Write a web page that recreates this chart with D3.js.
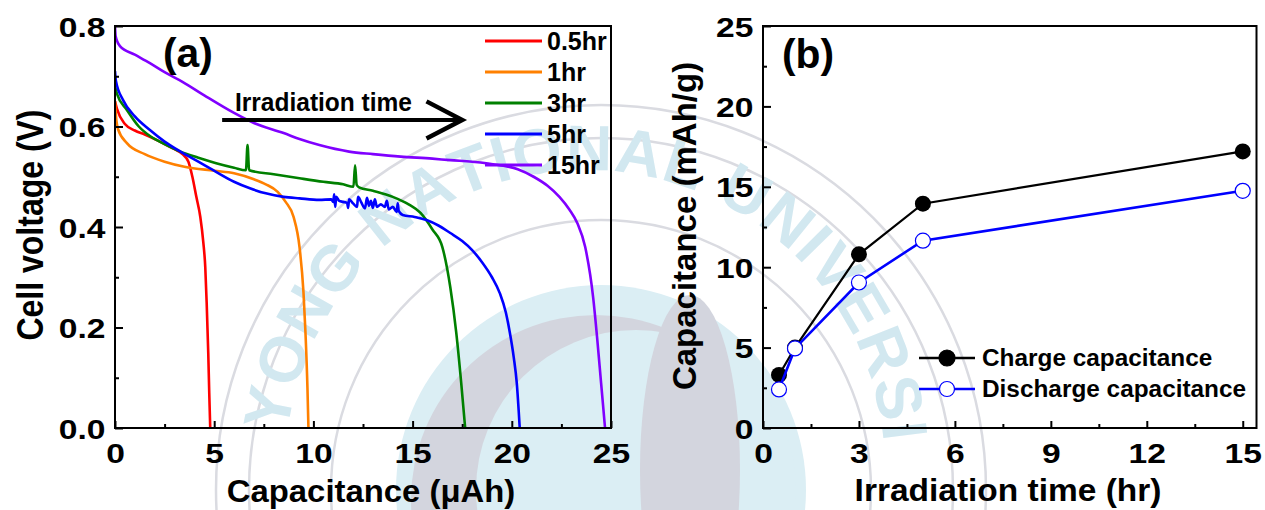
<!DOCTYPE html>
<html lang="en">
  <head>
    <meta charset="UTF-8" />
    <title>discharge curves</title>
    <style>
      body { margin: 0; background: #fff; }
      text { font-family: 'Liberation Sans', Arial, sans-serif; font-weight: bold; }
    </style>
  </head>
  <body>
    <svg id="chart" width="1265" height="510"></svg>
    <script src="https://cdn.jsdelivr.net/npm/d3@7"></script>
    <script>
      // (a) cell voltage vs capacitance, one array per irradiation time: [µAh, V]
      var curve05 = [[0,0.65],[0.1,0.635],[0.5,0.605],[1,0.592],[1.5,0.584],[2,0.575],[2.5,0.565],[3,0.555],[3.4,0.545],
        [3.7,0.53],[3.9,0.5],[4.1,0.46],[4.3,0.42],[4.45,0.37],[4.55,0.32],[4.62,0.25],[4.7,0.15],[4.75,0.07],[4.8,0]];
      var curve1 = [[0,0.65],[0.05,0.62],[0.15,0.595],[0.6,0.567],[1.5,0.545],[2.5,0.53],[3.5,0.52],[5,0.512],[6,0.507],
        [7,0.495],[7.6,0.485],[8.2,0.47],[8.6,0.45],[9,0.42],[9.3,0.36],[9.5,0.27],[9.6,0.19],[9.7,0.08],[9.75,0]];
      var curve3 = [[0,0.68],[0.1,0.665],[0.6,0.633],[1.2,0.6],[1.8,0.58],[2.5,0.565],[3.3,0.55],[4.2,0.538],[5.1,0.527],
        [6,0.518],[6.6,0.513],[6.68,0.563],[6.76,0.513],[8,0.505],[9.3,0.497],[10.5,0.49],[11.5,0.485],[12.02,0.48],
        [12.1,0.523],[12.18,0.484],[12.3,0.479],[13,0.472],[14,0.46],[14.8,0.445],[15.4,0.428],[16,0.395],[16.5,0.36],
        [16.9,0.28],[17.2,0.19],[17.45,0.09],[17.65,0]];
      var curve5 = [[0,0.71],[0.05,0.69],[0.4,0.653],[1,0.62],[1.76,0.593],[2.5,0.57],[3.3,0.55],[4.2,0.53],[4.95,0.513],
        [6,0.49],[6.8,0.477],[7.6,0.467],[8.5,0.46],[9.3,0.457],[10.3,0.454],[10.9,0.455],[11,0.45],[11.05,0.465],
        [11.1,0.44],[11.15,0.46],[11.3,0.452],[11.5,0.45],[11.7,0.448],[11.75,0.438],[11.8,0.455],[12,0.447],[12.2,0.44],
        [12.25,0.46],[12.4,0.45],[12.6,0.437],[12.7,0.458],[12.8,0.442],[12.9,0.452],[13,0.438],[13.1,0.455],[13.2,0.44],
        [13.4,0.445],[13.6,0.44],[13.7,0.452],[13.8,0.435],[14,0.44],[14.2,0.43],[14.25,0.447],[14.3,0.432],[14.5,0.424],
        [15.1,0.42],[15.7,0.414],[16.3,0.403],[16.9,0.388],[17.5,0.372],[18,0.354],[18.5,0.33],[19,0.3],[19.4,0.268],
        [19.7,0.23],[19.9,0.19],[20.1,0.14],[20.25,0.09],[20.4,0]];
      var curve15 = [[0,0.8],[0.03,0.78],[0.25,0.76],[1,0.743],[1.76,0.726],[2.5,0.708],[3.4,0.689],[4.5,0.662],[6,0.627],
        [7,0.607],[8.5,0.587],[9.3,0.575],[10.3,0.563],[11.8,0.55],[13,0.545],[14.4,0.54],[16,0.536],[16.9,0.533],[18,0.53],
        [19.4,0.523],[20.3,0.515],[21.1,0.5],[21.8,0.482],[22.4,0.46],[22.9,0.435],[23.3,0.408],[23.7,0.36],[24.1,0.26],
        [24.3,0.18],[24.5,0.09],[24.7,0]];
      var seriesNames = ['0.5hr', '1hr', '3hr', '5hr', '15hr'];
      var seriesColors = ['#ff0000', '#ff8000', '#008000', '#0000ff', '#8000ff'];
      var seriesData = [curve05, curve1, curve3, curve5, curve15];

      // (b) capacitance vs irradiation time
      var irrTime = [0.5, 1, 3, 5, 15];
      var chargeCap = [3.3, 5.0, 10.8, 13.95, 17.2];
      var dischargeCap = [2.4, 4.95, 9.05, 11.65, 14.75];

      var xTicksA = [0, 5, 10, 15, 20, 25];
      var yTicksA = [0, 0.2, 0.4, 0.6, 0.8];
      var xTicksB = [0, 3, 6, 9, 12, 15];
      var yTicksB = [0, 5, 10, 15, 20, 25];

      var svg = d3.select('#chart');

      drawWatermark();

      var xA = d3.scaleLinear().domain([0, 25]).range([115, 611]);
      var yA = d3.scaleLinear().domain([0, 0.8]).range([428, 26]);
      var xB = d3.scaleLinear().domain([0, 15.43]).range([763, 1256.5]);
      var yB = d3.scaleLinear().domain([0, 25]).range([428, 26]);

      function stretched(g, x, y, txt, size, sx, anchor, rot) {
        return g.append('text')
          .attr('transform', 'translate(' + x + ',' + y + ') scale(' + sx + ',1)' + (rot ? ' rotate(-90)' : ''))
          .attr('text-anchor', anchor)
          .style('font-size', size + 'px')
          .text(txt);
      }

      function axes(x, y, xt, yt, xMinor, yMinor, yFmt) {
        var g = svg.append('g');
        var bottom = y.range()[0];
        var left = x.range()[0];
        // minor ticks, no labels
        g.append('g').attr('transform', 'translate(0,' + bottom + ')')
          .call(d3.axisBottom(x).tickValues(xMinor).tickSize(-4))
          .selectAll('text').remove();
        g.append('g').attr('transform', 'translate(' + left + ',0)')
          .call(d3.axisLeft(y).tickValues(yMinor).tickSize(-4))
          .selectAll('text').remove();
        var gx = g.append('g').attr('transform', 'translate(0,' + bottom + ')')
          .call(d3.axisBottom(x).tickValues(xt).tickSize(-7).tickPadding(15).tickFormat(d3.format('d')));
        var gy = g.append('g').attr('transform', 'translate(' + left + ',0)')
          .call(d3.axisLeft(y).tickValues(yt).tickSize(-8).tickPadding(8).tickFormat(yFmt));
        g.selectAll('.domain').remove();
        g.selectAll('.tick line').attr('stroke', '#000').attr('stroke-width', 2);
        g.selectAll('.tick text').attr('fill', '#000').style('font-size', '28px')
          .attr('transform', 'scale(1.2,1)');
        gy.selectAll('.tick text').attr('dy', '0.36em');
        g.append('rect')
          .attr('x', left).attr('y', y.range()[1])
          .attr('width', x.range()[1] - left).attr('height', bottom - y.range()[1])
          .attr('fill', 'none').attr('stroke', '#000').attr('stroke-width', 2);
        return g;
      }

      // ---- panel (a)
      svg.append('clipPath').attr('id', 'clipA').append('rect')
        .attr('x', 115).attr('y', 26).attr('width', 496).attr('height', 402);

      var line = d3.line().x(d => xA(d[0])).y(d => yA(d[1])).curve(d3.curveMonotoneX);
      svg.append('g').attr('clip-path', 'url(#clipA)')
        .selectAll('path').data(seriesData).join('path')
        .attr('d', line)
        .attr('fill', 'none')
        .attr('stroke', (d, i) => seriesColors[i])
        .attr('stroke-width', 2.6)
        .attr('stroke-linejoin', 'round');

      axes(xA, yA, xTicksA, yTicksA, d3.range(2.5, 25, 5), d3.range(0.1, 0.8, 0.2), d3.format('.1f'));

      var legA = svg.append('g').selectAll('g').data(seriesNames).join('g')
        .attr('transform', (d, i) => 'translate(485,' + (41 + i * 31) + ')');
      legA.append('line').attr('x1', 0).attr('x2', 57)
        .attr('stroke', (d, i) => seriesColors[i]).attr('stroke-width', 3);
      legA.append('text').attr('x', 62).attr('y', 9).style('font-size', '25px').text(d => d);

      stretched(svg, 163, 67, '(a)', 40, 1.02, 'start');
      stretched(svg, 235, 111, 'Irradiation time', 25, 0.98, 'start');
      svg.append('line').attr('x1', xA(5.4)).attr('x2', xA(17.5)).attr('y1', yA(0.613)).attr('y2', yA(0.613))
        .attr('stroke', '#000').attr('stroke-width', 4);
      svg.append('path')
        .attr('d', 'M' + xA(15.7) + ',' + yA(0.65) + 'L' + xA(17.5) + ',' + yA(0.613) + 'L' + xA(15.7) + ',' + yA(0.576))
        .attr('fill', 'none').attr('stroke', '#000').attr('stroke-width', 4.5);

      stretched(svg, 371, 502, 'Capacitance (\u03bcAh)', 31, 1.06, 'middle');
      stretched(svg, 43, 225, 'Cell voltage (V)', 32, 1.13, 'middle', true);

      // ---- panel (b)
      axes(xB, yB, xTicksB, yTicksB, d3.range(1.5, 15.43, 3), d3.range(2.5, 25, 5), d3.format('d'));

      var ptsC = irrTime.map((t, i) => [t, chargeCap[i]]);
      var ptsD = irrTime.map((t, i) => [t, dischargeCap[i]]);
      var lineB = d3.line().x(d => xB(d[0])).y(d => yB(d[1]));
      svg.append('path').attr('d', lineB(ptsC)).attr('fill', 'none').attr('stroke', '#000').attr('stroke-width', 2.2);
      svg.append('g').selectAll('circle').data(ptsC).join('circle')
        .attr('cx', d => xB(d[0])).attr('cy', d => yB(d[1])).attr('r', 8).attr('fill', '#000');
      svg.append('path').attr('d', lineB(ptsD)).attr('fill', 'none').attr('stroke', '#0000ff').attr('stroke-width', 2.6);
      svg.append('g').selectAll('circle').data(ptsD).join('circle')
        .attr('cx', d => xB(d[0])).attr('cy', d => yB(d[1])).attr('r', 7.5)
        .attr('fill', '#fff').attr('stroke', '#0000ff').attr('stroke-width', 1.2);

      var legB = svg.append('g').selectAll('g').data([
        { name: 'Charge capacitance', color: '#000', filled: true },
        { name: 'Discharge capacitance', color: '#0000ff', filled: false }
      ]).join('g').attr('transform', (d, i) => 'translate(919,' + (358 + i * 31) + ')');
      legB.append('line').attr('x1', 0).attr('x2', 56).attr('stroke', d => d.color).attr('stroke-width', 2.6);
      legB.append('circle').attr('cx', 28).attr('r', d => d.filled ? 8 : 7.5)
        .attr('fill', d => d.filled ? '#000' : '#fff').attr('stroke', d => d.color).attr('stroke-width', 1.2);
      legB.each(function (d) { stretched(d3.select(this), 63, 8, d.name, 23, 1.06, 'start'); });

      stretched(svg, 782, 68, '(b)', 40, 1.02, 'start');
      stretched(svg, 1008, 501, 'Irradiation time (hr)', 31, 1.08, 'middle');
      stretched(svg, 696, 226, 'Capacitance (mAh/g)', 33, 1.0, 'middle', true);

      // faint university seal behind both panels
      function drawWatermark() {
        var wm = svg.append('g').attr('class', 'watermark');
        var cx = 601, cy = 490;
        wm.append('circle').attr('cx', cx).attr('cy', cy).attr('r', 205).attr('fill', '#dbeef4');
        wm.append('circle').attr('cx', cx - 5).attr('cy', cy + 10).attr('r', 185).attr('fill', '#d3d5de');
        wm.append('circle').attr('cx', cx + 35).attr('cy', cy).attr('r', 160).attr('fill', '#dbeef4');
        wm.append('ellipse').attr('cx', 690).attr('cy', 470).attr('rx', 50).attr('ry', 175).attr('fill', '#d3d5de');
        [270, 352, 385].forEach(r => {
          wm.append('circle').attr('cx', cx).attr('cy', cy).attr('r', r)
            .attr('fill', 'none').attr('stroke', '#dadbe1').attr('stroke-width', 2.5);
        });
        // seal lettering, one glyph at a time along the ring
        var tcx = 585, tcy = 470, rText = 300, spacing = 1;
        var a = 187 * Math.PI / 180;
        var probe = wm.append('text').style('font-size', '64px');
        'YONG NATIONAL UNIVERSI'.split('').forEach(ch => {
          var w = probe.text(ch === ' ' ? '\u00a0' : ch).node().getComputedTextLength();
          var mid = a + (w / 2) / rText;
          if (ch !== ' ') {
            wm.append('text').style('font-size', '64px').attr('fill', '#d2e8f0')
              .attr('text-anchor', 'middle')
              .attr('transform', 'translate(' + (tcx + rText * Math.cos(mid)) + ',' + (tcy + rText * Math.sin(mid)) +
                ') rotate(' + (mid * 180 / Math.PI + 90) + ')')
              .text(ch);
          }
          a += (w + spacing) / rText;
        });
        probe.remove();
      }
    </script>
  </body>
</html>
